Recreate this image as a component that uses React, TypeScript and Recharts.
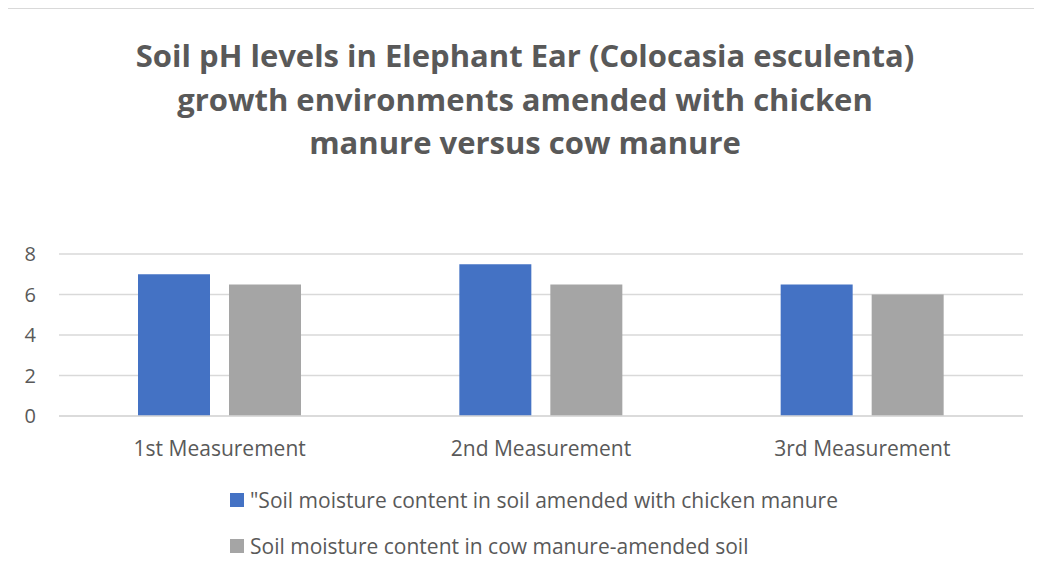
import { Bar, BarChart, CartesianGrid, XAxis, YAxis } from "recharts";

const categories = ["1st Measurement", "2nd Measurement", "3rd Measurement"];
const chickenValues = [7, 7.5, 6.5];
const cowValues = [6.5, 6.5, 6];
const yTicks = [0, 2, 4, 6, 8];
const seriesNames = [
  '"Soil moisture content in soil amended with chicken manure',
  "Soil moisture content in cow manure-amended soil",
];
const seriesColors = ["#4472C4", "#A5A5A5"];

const data = categories.map((name, i) => ({
  name,
  chicken: chickenValues[i],
  cow: cowValues[i],
}));

const FONT = "'Open Sans', sans-serif";
const TEXT = "#595959";
const GRID = "#d9d9d9";

export default function App() {
  return (
    <div
      style={{
        position: "relative",
        width: 1034,
        height: 570,
        border: `1px solid ${GRID}`,
        marginLeft: -1,
        background: "#fff",
        overflow: "hidden",
      }}
    >
      <div
        style={{
          position: "absolute",
          top: 25,
          left: 0,
          width: 1034,
          textAlign: "center",
          fontFamily: FONT,
          fontWeight: 700,
          fontSize: 31,
          lineHeight: "43.5px",
          color: TEXT,
        }}
      >
        Soil pH levels in Elephant Ear (Colocasia esculenta)
        <br />
        growth environments amended with chicken
        <br />
        manure versus cow manure
      </div>
      <BarChart
        width={1034}
        height={480}
        data={data}
        margin={{ top: 245, right: 19, left: 0, bottom: 43 }}
        barSize={72}
        barGap={19}
      >
        <CartesianGrid vertical={false} stroke={GRID} strokeWidth={1.5} />
        <XAxis
          dataKey="name"
          axisLine={{ stroke: GRID, strokeWidth: 1.5 }}
          tickLine={false}
          tickSize={0}
          tickMargin={25}
          tick={{ fontFamily: FONT, fontSize: 21, fill: TEXT }}
        />
        <YAxis
          width={51}
          domain={[0, 8]}
          ticks={yTicks}
          axisLine={false}
          tickLine={false}
          tickSize={0}
          tickMargin={23}
          tick={{ fontFamily: FONT, fontSize: 20, fill: TEXT }}
        />
        <Bar dataKey="chicken" name={seriesNames[0]} fill={seriesColors[0]} isAnimationActive={false} />
        <Bar dataKey="cow" name={seriesNames[1]} fill={seriesColors[1]} isAnimationActive={false} />
      </BarChart>
      {/* legend as a vertical list under the axis */}
      <div style={{ position: "absolute", left: 222, top: 468 }}>
        {seriesNames.map((label, i) => (
          <div
            key={`leg-${i}`}
            style={{ display: "flex", alignItems: "center", height: 46, fontFamily: FONT, fontSize: 21, color: TEXT }}
          >
            <span style={{ width: 14, height: 14, background: seriesColors[i], marginRight: 6, display: "inline-block" }} />
            <span>{label}</span>
          </div>
        ))}
      </div>
    </div>
  );
}
